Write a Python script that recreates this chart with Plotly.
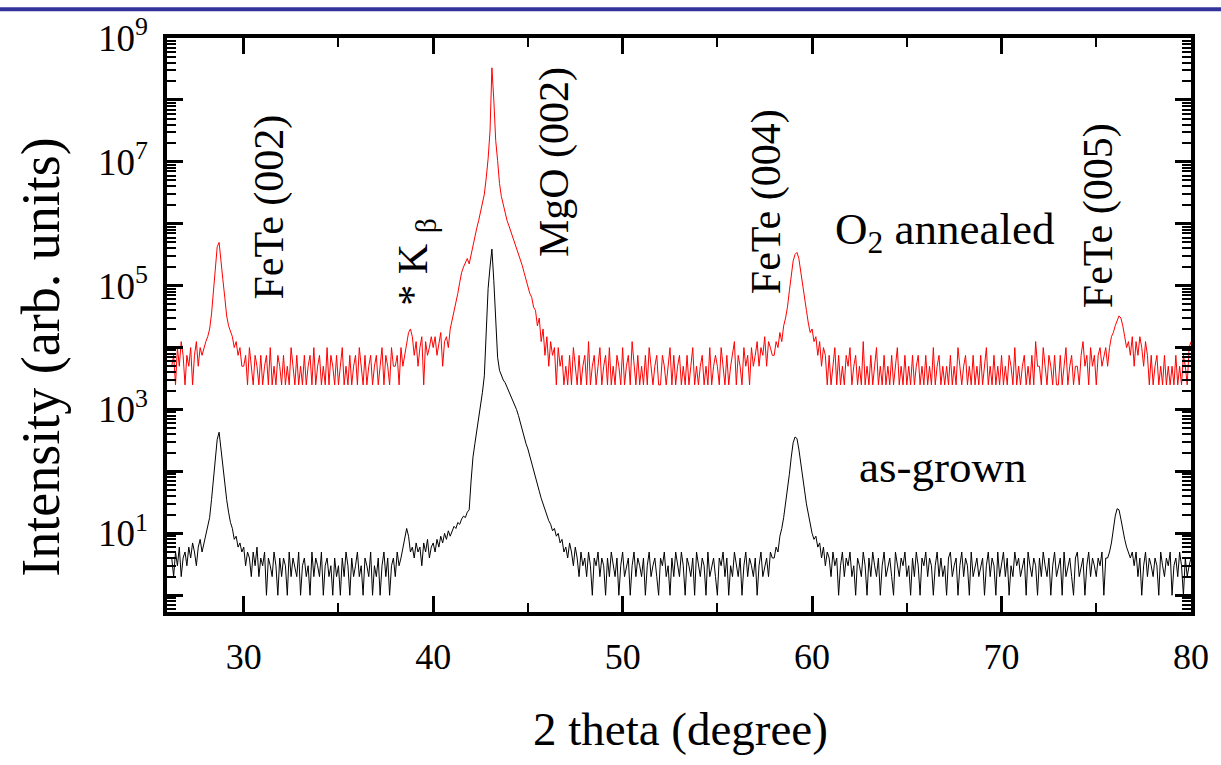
import numpy as np
import plotly.graph_objects as go

# 2-theta scan grid (degrees)
SCAN_START = 26.2
SCAN_STEP = 0.1

# As-grown film: detector counts, one row per degree (26.2 ... 80.0)
as_grown_rows = [
    [4, 2, 5, 3, 6, 2, 4, 5],
    [3, 6, 4, 7, 5, 3, 6, 8, 5, 7],
    [9, 12, 18, 35, 70, 150, 330, 430, 230, 110],
    [60, 35, 22, 15, 12, 8, 9, 6, 7, 5],
    [6, 3, 5, 4, 2, 5, 3, 6, 2, 4],
    [3, 5, 1, 4, 3, 2, 5, 3, 1, 4],
    [2, 4, 3, 1, 5, 2, 4, 3, 2, 5],
    [1, 3, 4, 2, 3, 1, 5, 2, 4, 3],
    [2, 5, 1, 3, 4, 2, 3, 1, 4, 2],
    [3, 1, 4, 2, 5, 3, 1, 4, 2, 3],
    [5, 2, 3, 1, 4, 3, 2, 5, 1, 3],
    [2, 4, 1, 3, 5, 2, 4, 1, 3, 4],
    [2, 5, 3, 4, 6, 8, 12, 9, 5, 6],
    [4, 7, 5, 6, 3, 7, 5, 8, 4, 6],
    [7, 5, 8, 6, 9, 7, 10, 8, 11, 9],
    [11, 13, 12, 15, 14, 17, 19, 18, 22, 24],
    [70, 170, 280, 450, 700, 1100, 1900, 3500, 25000, 90000],
    [200000, 390000, 120000, 25000, 7000, 4300, 3500, 3000, 2700, 2300],
    [2000, 1700, 1400, 1200, 1000, 800, 600, 450, 350, 280],
    [230, 180, 140, 110, 85, 62, 48, 37, 30, 24],
    [19, 16, 14, 11, 12, 9, 10, 7, 8, 5],
    [6, 4, 7, 5, 3, 6, 4, 2, 5, 3],
    [4, 2, 5, 3, 1, 4, 3, 5, 2, 4],
    [3, 1, 4, 2, 5, 3, 2, 4, 1, 3],
    [5, 2, 3, 4, 1, 3, 5, 2, 4, 3],
    [2, 4, 1, 3, 5, 2, 3, 4, 2, 1],
    [4, 3, 5, 2, 3, 1, 4, 2, 5, 3],
    [2, 5, 3, 1, 4, 3, 2, 4, 1, 5],
    [3, 2, 4, 3, 1, 5, 2, 3, 4, 2],
    [1, 4, 3, 5, 2, 4, 1, 3, 2, 5],
    [3, 2, 4, 1, 3, 5, 2, 4, 3, 2],
    [4, 1, 3, 5, 2, 3, 4, 2, 5, 4],
    [4, 6, 5, 9, 12, 18, 30, 50, 90, 170],
    [290, 360, 340, 230, 130, 75, 50, 30, 20, 14],
    [10, 8, 9, 6, 7, 4, 6, 3, 5, 4],
    [2, 5, 3, 4, 1, 3, 5, 2, 4, 3],
    [5, 2, 3, 1, 4, 3, 2, 5, 3, 1],
    [4, 2, 5, 3, 2, 4, 1, 3, 5, 2],
    [3, 4, 2, 1, 5, 3, 2, 4, 3, 5],
    [2, 3, 1, 4, 2, 5, 3, 1, 4, 3],
    [5, 2, 4, 3, 1, 3, 5, 2, 4, 2],
    [3, 1, 4, 5, 2, 3, 4, 1, 3, 5],
    [2, 4, 3, 1, 5, 2, 3, 4, 2, 3],
    [4, 1, 3, 5, 2, 4, 3, 1, 5, 2],
    [3, 5, 2, 4, 1, 3, 2, 5, 3, 4],
    [2, 3, 4, 1, 5, 3, 2, 4, 3, 1],
    [4, 2, 5, 3, 2, 4, 1, 3, 5, 2],
    [3, 4, 1, 5, 2, 3, 4, 2, 1, 4],
    [5, 2, 3, 4, 1, 3, 5, 2, 4, 3],
    [2, 4, 3, 5, 1, 4, 4, 5, 7, 12],
    [19, 25, 24, 17, 11, 8, 6, 5, 4, 5],
    [3, 5, 2, 4, 1, 3, 5, 2, 4, 3],
    [2, 4, 3, 1, 5, 3, 2, 4, 3, 5],
    [1, 3, 4, 2, 5, 3, 1, 4, 2, 3],
    [4],
]

# O2-annealed film: detector counts on the same grid
annealed_rows = [
    [2, 3, 1, 4, 2, 5, 3, 1],
    [3, 2, 4, 1, 3, 5, 2, 4, 3, 4],
    [5, 6, 8, 14, 32, 80, 170, 200, 110, 50],
    [26, 13, 9, 7, 6, 4, 5, 3, 4, 2],
    [2, 3, 1, 4, 2, 1, 3, 2, 1, 3],
    [1, 2, 3, 1, 4, 1, 2, 1, 3, 2],
    [1, 3, 1, 2, 1, 4, 2, 1, 3, 1],
    [2, 1, 3, 1, 2, 3, 1, 4, 1, 2],
    [3, 1, 2, 1, 4, 1, 3, 2, 1, 3],
    [1, 2, 4, 1, 2, 1, 3, 1, 2, 3],
    [1, 4, 2, 1, 3, 1, 2, 3, 1, 2],
    [3, 1, 2, 4, 1, 3, 2, 1, 4, 2],
    [2, 3, 1, 4, 2, 3, 5, 7, 8, 6],
    [3, 5, 2, 4, 6, 1, 5, 3, 4, 6],
    [4, 6, 3, 5, 7, 2, 5, 6, 4, 8],
    [11, 14, 20, 30, 45, 65, 80, 95, 110, 90],
    [130, 180, 250, 340, 450, 620, 850, 1200, 2200, 4500],
    [12600, 132000, 40000, 8900, 4200, 1800, 1100, 800, 560, 450],
    [370, 300, 250, 200, 160, 130, 105, 85, 65, 50],
    [38, 30, 26, 18, 16, 9, 12, 5, 8, 3],
    [6, 2, 5, 3, 4, 1, 4, 2, 3, 1],
    [2, 1, 3, 1, 4, 2, 1, 3, 1, 2],
    [3, 1, 5, 1, 2, 3, 1, 2, 4, 1],
    [2, 3, 1, 4, 1, 2, 1, 3, 2, 1],
    [4, 1, 2, 3, 1, 5, 2, 1, 3, 1],
    [2, 1, 3, 1, 4, 2, 1, 2, 3, 1],
    [1, 3, 2, 1, 2, 4, 1, 3, 1, 2],
    [3, 1, 2, 1, 3, 1, 2, 4, 1, 2],
    [1, 2, 3, 1, 2, 1, 4, 1, 2, 3],
    [2, 1, 4, 2, 1, 3, 1, 2, 3, 5],
    [1, 3, 2, 1, 4, 2, 3, 1, 4, 2],
    [3, 5, 2, 4, 3, 6, 2, 5, 4, 3],
    [3, 5, 4, 7, 5, 9, 12, 18, 33, 60],
    [100, 128, 138, 110, 70, 45, 30, 16, 10, 7],
    [8, 5, 6, 3, 5, 2, 4, 3, 1, 3],
    [1, 2, 4, 1, 3, 1, 2, 1, 3, 2],
    [4, 1, 2, 3, 1, 2, 1, 5, 1, 2],
    [1, 3, 1, 2, 4, 1, 2, 1, 3, 1],
    [2, 1, 3, 1, 2, 4, 1, 2, 1, 3],
    [1, 2, 1, 3, 1, 2, 3, 1, 2, 1],
    [3, 1, 2, 1, 4, 1, 2, 3, 1, 2],
    [1, 2, 1, 3, 1, 2, 1, 4, 2, 1],
    [2, 3, 1, 2, 1, 3, 1, 2, 1, 3],
    [1, 2, 4, 1, 2, 1, 3, 1, 2, 1],
    [3, 1, 2, 1, 3, 2, 1, 4, 1, 2],
    [1, 2, 3, 1, 2, 1, 3, 1, 5, 2],
    [2, 1, 4, 2, 1, 3, 2, 1, 3, 1],
    [1, 3, 1, 2, 4, 1, 2, 3, 1, 2],
    [2, 1, 3, 5, 2, 3, 1, 4, 2, 3],
    [1, 3, 4, 2, 3, 4, 2, 4, 6, 7],
    [9, 11, 13, 12, 9, 6, 4, 5, 3, 6],
    [2, 5, 3, 6, 4, 2, 5, 3, 1, 3],
    [1, 2, 3, 1, 2, 1, 3, 1, 2, 1],
    [2, 1, 3, 1, 2, 1, 3, 2, 1, 4],
    [5],
]

# the annealed scan is shifted up for clarity
ANNEALED_OFFSET = 2500

# peak labels: (text, centre x in paper units, centre y in paper units)
peak_labels = [
    ("FeTe (002)", 0.0998, 0.705),
    ("* K <sub>β</sub>", 0.243, 0.61),
    ("MgO (002)", 0.379, 0.784),
    ("FeTe (004)", 0.585, 0.714),
    ("FeTe (005)", 0.910, 0.691),
]

x_tick_values = [30, 40, 50, 60, 70, 80]
x_minor_values = [35, 45, 55, 65, 75]
y_decades = list(range(0, 10))

as_grown = np.array([v for row in as_grown_rows for v in row], dtype=float)
annealed = np.array([v for row in annealed_rows for v in row], dtype=float) * ANNEALED_OFFSET
assert len(as_grown) == len(annealed)
two_theta = np.round(SCAN_START + SCAN_STEP * np.arange(len(as_grown)), 2)

SERIF = "Liberation Serif, Times New Roman, serif"

fig = go.Figure()
fig.add_trace(go.Scatter(x=two_theta, y=annealed, mode="lines",
                         line=dict(color="#ff0000", width=1), name="O2 annealed"))
fig.add_trace(go.Scatter(x=two_theta, y=as_grown, mode="lines",
                         line=dict(color="#000000", width=1), name="as-grown"))

y_ticktext = [f"10<sup>{k}</sup>" if k % 2 == 1 else "" for k in y_decades]
y_minor = [m * 10.0 ** k for k in range(-1, 9) for m in range(2, 10)]

fig.update_xaxes(
    range=[25.95, 80], tickvals=x_tick_values, ticks="inside", ticklen=16,
    tickwidth=3, tickcolor="black", showline=True, linewidth=3.5, linecolor="black",
    mirror="allticks", showgrid=False, zeroline=False,
    tickfont=dict(family=SERIF, size=36, color="black"), ticklabelstandoff=10,
    minor=dict(tickvals=x_minor_values, ticks="inside", ticklen=9, tickwidth=2,
               tickcolor="black", showgrid=False),
)
fig.update_yaxes(
    type="log", range=[-0.27, 9], tickvals=[10.0 ** k for k in y_decades],
    ticktext=y_ticktext, ticks="inside", ticklen=16, tickwidth=3, tickcolor="black",
    showline=True, linewidth=3.5, linecolor="black", mirror="allticks",
    showgrid=False, zeroline=False,
    tickfont=dict(family=SERIF, size=37, color="black"), ticklabelstandoff=8,
    minor=dict(tickvals=y_minor, ticks="inside", ticklen=9, tickwidth=2,
               tickcolor="black", showgrid=False),
)

annotations = []
for text, px, py in peak_labels:
    annotations.append(dict(text=text, x=px, y=py, xref="paper", yref="paper",
                            textangle=-90, showarrow=False, xanchor="center",
                            yanchor="middle", font=dict(family=SERIF, size=42, color="black")))
annotations += [
    dict(text="O<sub>2</sub> annealed", x=0.759, y=0.662, xref="paper", yref="paper",
         xanchor="center", yanchor="middle", showarrow=False,
         font=dict(family=SERIF, size=45, color="black")),
    dict(text="as-grown", x=0.757, y=0.253, xref="paper", yref="paper",
         xanchor="center", yanchor="middle", showarrow=False,
         font=dict(family=SERIF, size=45, color="black")),
    dict(text="Intensity (arb. units)", x=-0.123, y=0.443, xref="paper", yref="paper",
         xanchor="center", yanchor="middle", textangle=-90, showarrow=False,
         font=dict(family=SERIF, size=54, color="black")),
    dict(text="2 theta (degree)", x=0.501, y=-0.203, xref="paper", yref="paper",
         xanchor="center", yanchor="middle", showarrow=False,
         font=dict(family=SERIF, size=47, color="black")),
]

fig.update_layout(
    width=1221, height=765,
    margin=dict(l=167, r=22, t=32, b=153),
    paper_bgcolor="white", plot_bgcolor="white",
    showlegend=False, annotations=annotations,
    shapes=[dict(type="line", xref="paper", yref="paper", x0=-0.17, x1=1.03,
                 y0=(612 - 3) / 580, y1=(612 - 3) / 580,
                 line=dict(color="#33339c", width=4))],
)

fig.write_html("out.html")
